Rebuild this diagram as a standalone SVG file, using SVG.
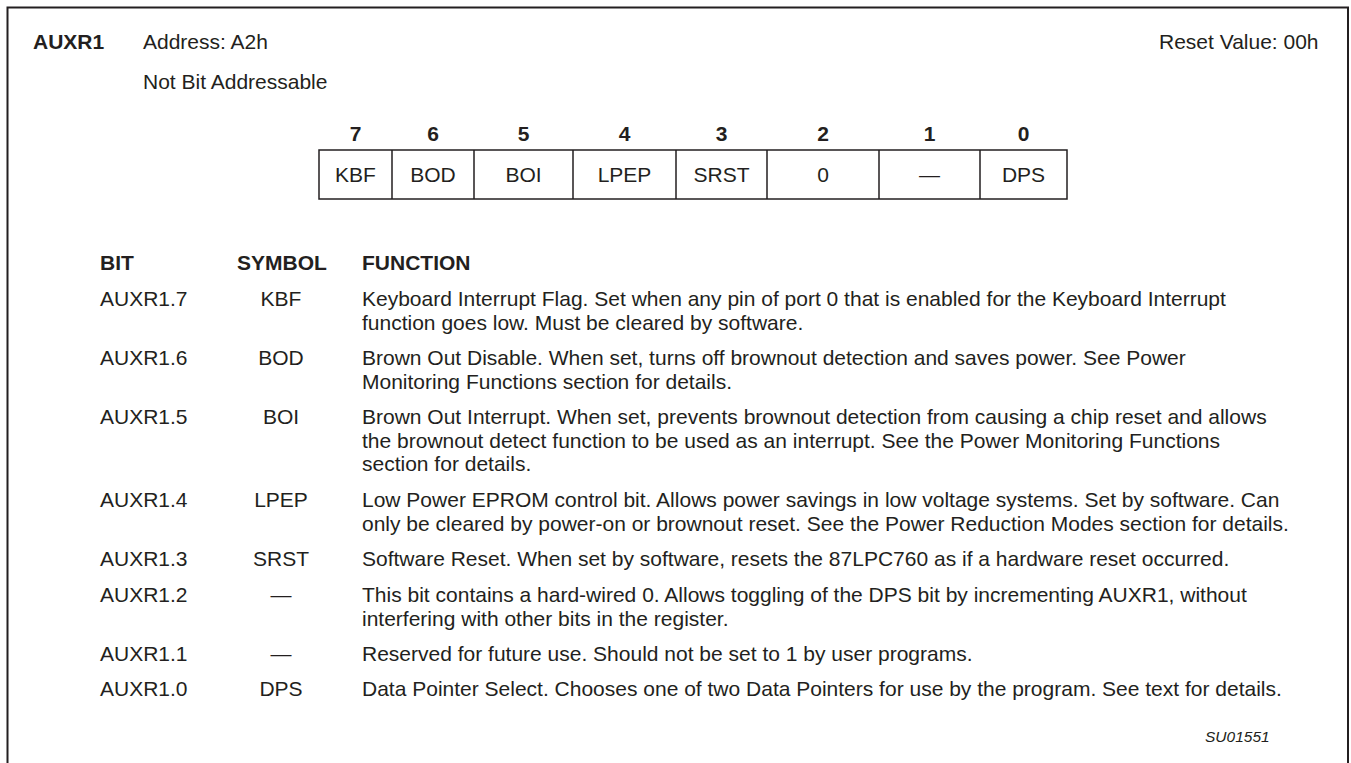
<svg xmlns="http://www.w3.org/2000/svg" width="1351" height="763" viewBox="0 0 1351 763">
<style>
text{font-family:"Liberation Sans",Arial,Helvetica,sans-serif;font-size:21px;fill:#231f20}
.b{font-weight:bold}
.c{text-anchor:middle}
.i{font-style:italic;font-size:15.5px}
.ln{stroke:#231f20;stroke-width:1.5;fill:none}
</style>
<rect width="1351" height="763" fill="#fff"/>
<path d="M7.5,763V7.5H1348V763" stroke="#231f20" stroke-width="2" fill="none"/>
<g id="header">
<text x="33" y="49" class="b">AUXR1</text>
<text x="143" y="49">Address: A2h</text>
<text x="143" y="89">Not Bit Addressable</text>
<text x="1159" y="49">Reset Value: 00h</text>
</g>
<g id="register">
<rect x="319" y="150" width="748" height="49" class="ln"/>
<path class="ln" d="M392,150V199M474,150V199M573,150V199M676,150V199M767,150V199M879,150V199M980,150V199"/>
<g class="b">
<text class="c b" x="355.5" y="141">7</text>
<text class="c b" x="433" y="141">6</text>
<text class="c b" x="523.5" y="141">5</text>
<text class="c b" x="624.5" y="141">4</text>
<text class="c b" x="721.5" y="141">3</text>
<text class="c b" x="823" y="141">2</text>
<text class="c b" x="929.5" y="141">1</text>
<text class="c b" x="1023.5" y="141">0</text>
</g>
<text class="c" x="355.5" y="182">KBF</text>
<text class="c" x="433" y="182">BOD</text>
<text class="c" x="523.5" y="182">BOI</text>
<text class="c" x="624.5" y="182">LPEP</text>
<text class="c" x="721.5" y="182">SRST</text>
<text class="c" x="823" y="182">0</text>
<text class="c" x="929.5" y="182">—</text>
<text class="c" x="1023.5" y="182">DPS</text>
</g>
<g id="table">
<text class="b" x="100" y="270">BIT</text>
<text class="b" x="237" y="270">SYMBOL</text>
<text class="b" x="362" y="270">FUNCTION</text>

<text x="100" y="306">AUXR1.7</text>
<text class="c" x="281" y="306">KBF</text>
<text x="362" y="306">Keyboard Interrupt Flag. Set when any pin of port 0 that is enabled for the Keyboard Interrupt</text>
<text x="362" y="329.5">function goes low. Must be cleared by software.</text>

<text x="100" y="365">AUXR1.6</text>
<text class="c" x="281" y="365">BOD</text>
<text x="362" y="365">Brown Out Disable. When set, turns off brownout detection and saves power. See Power</text>
<text x="362" y="388.5">Monitoring Functions section for details.</text>

<text x="100" y="424">AUXR1.5</text>
<text class="c" x="281" y="424">BOI</text>
<text x="362" y="424">Brown Out Interrupt. When set, prevents brownout detection from causing a chip reset and allows</text>
<text x="362" y="447.5">the brownout detect function to be used as an interrupt. See the Power Monitoring Functions</text>
<text x="362" y="471">section for details.</text>

<text x="100" y="507">AUXR1.4</text>
<text class="c" x="281" y="507">LPEP</text>
<text x="362" y="507">Low Power EPROM control bit. Allows power savings in low voltage systems. Set by software. Can</text>
<text x="362" y="530.5">only be cleared by power-on or brownout reset. See the Power Reduction Modes section for details.</text>

<text x="100" y="566">AUXR1.3</text>
<text class="c" x="281" y="566">SRST</text>
<text x="362" y="566">Software Reset. When set by software, resets the 87LPC760 as if a hardware reset occurred.</text>

<text x="100" y="602">AUXR1.2</text>
<text class="c" x="281" y="602">—</text>
<text x="362" y="602">This bit contains a hard-wired 0. Allows toggling of the DPS bit by incrementing AUXR1, without</text>
<text x="362" y="625.5">interfering with other bits in the register.</text>

<text x="100" y="661">AUXR1.1</text>
<text class="c" x="281" y="661">—</text>
<text x="362" y="661">Reserved for future use. Should not be set to 1 by user programs.</text>

<text x="100" y="696">AUXR1.0</text>
<text class="c" x="281" y="696">DPS</text>
<text x="362" y="696">Data Pointer Select. Chooses one of two Data Pointers for use by the program. See text for details.</text>

<text class="i" x="1205" y="742">SU01551</text>
</g>
</svg>
